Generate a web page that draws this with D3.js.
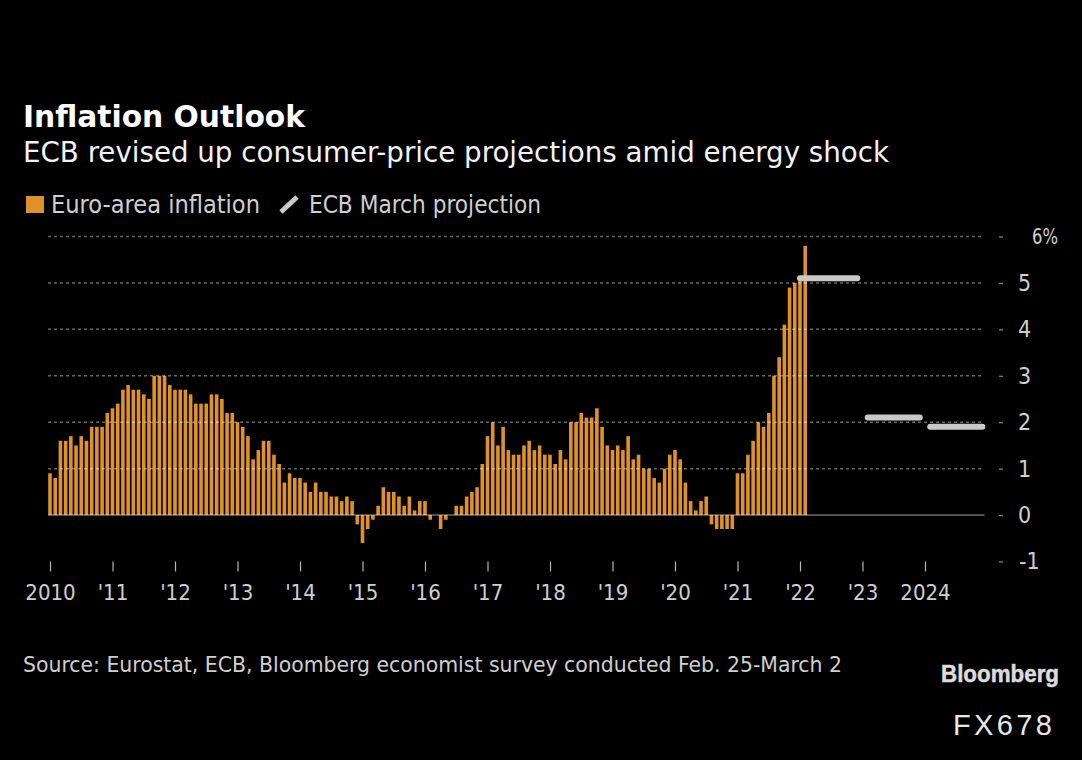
<!DOCTYPE html>
<html>
<head>
<meta charset="utf-8">
<script src="https://cdn.jsdelivr.net/npm/d3@7"></script>
<style>
  html, body { margin: 0; padding: 0; background: #000; }
  svg { display: block; }
  text { font-family: "DejaVu Sans Condensed", "DejaVu Sans", sans-serif; font-stretch: condensed; }
</style>
</head>
<body>
<div id="chart"></div>
<script>
// monthly readings, Jan 2010 to Feb 2022
var inflation2010s = [
    0.9, 0.8, 1.6, 1.6, 1.7, 1.5, 1.7, 1.6, 1.9, 1.9, 1.9, 2.2,
    2.3, 2.4, 2.7, 2.8, 2.7, 2.7, 2.6, 2.5, 3.0, 3.0, 3.0, 2.8,
    2.7, 2.7, 2.7, 2.6, 2.4, 2.4, 2.4, 2.6, 2.6, 2.5, 2.2, 2.2,
    2.0, 1.9, 1.7, 1.2, 1.4, 1.6, 1.6, 1.3, 1.1, 0.7, 0.9, 0.8,
    0.8, 0.7, 0.5, 0.7, 0.5, 0.5, 0.4, 0.4, 0.3, 0.4, 0.3, -0.2,
    -0.6, -0.3, -0.1, 0.2, 0.6, 0.5, 0.5, 0.4, 0.2, 0.4, 0.1, 0.3,
    0.3, -0.1, 0.0, -0.3, -0.1, 0.0, 0.2, 0.2, 0.4, 0.5, 0.6, 1.1,
    1.7, 2.0, 1.5, 1.9, 1.4, 1.3, 1.3, 1.5, 1.6, 1.4, 1.5, 1.3,
    1.3, 1.1, 1.4, 1.2, 2.0, 2.0, 2.2, 2.1, 2.1, 2.3, 1.9, 1.5,
    1.4, 1.5, 1.4, 1.7, 1.2, 1.3, 1.0, 1.0, 0.8, 0.7, 1.0, 1.3
];
var inflation2020s = [
    1.4, 1.2, 0.7, 0.3, 0.1, 0.3, 0.4, -0.2, -0.3, -0.3, -0.3, -0.3,
    0.9, 0.9, 1.3, 1.6, 2.0, 1.9, 2.2, 3.0, 3.4, 4.1, 4.9, 5.0,
    5.1, 5.8
];
var inflation = inflation2010s.concat(inflation2020s);

// projection segments, months counted from Jan 2010
var projectionStart = [144, 157, 169];
var projectionEnd = [155, 167, 179];
var projectionValue = [5.1, 2.1, 1.9];

var yearLabels = ['2010', "'11", "'12", "'13", "'14", "'15", "'16", "'17", "'18", "'19", "'20", "'21", "'22", "'23", '2024'];
var yTicks = [-1, 0, 1, 2, 3, 4, 5, 6];

var width = 1082, height = 760;
var orange = '#de9229', grey = '#c9c9c9', label = '#cfcfcf';

var svg = d3.select('#chart').append('svg')
    .attr('width', width)
    .attr('height', height);

svg.append('rect')
    .attr('width', width)
    .attr('height', height)
    .attr('fill', '#000');

var x = d3.scaleLinear().domain([0, 180]).range([50, 987.5]);
var y = d3.scaleLinear().domain([-1, 6]).range([561.5, 236.5]);
var barWidth = 3.6;

// bars
svg.append('g').selectAll('rect')
    .data(inflation)
    .enter()
    .append('rect')
    .attr('x', function(d, i) { return x(i) - barWidth / 2; })
    .attr('y', function(d) { return y(Math.max(d, 0)); })
    .attr('width', barWidth)
    .attr('height', function(d) { return Math.abs(y(d) - y(0)); })
    .attr('fill', orange);

// dotted grid goes over the bars, it shows through them in the original
svg.append('g').selectAll('line')
    .data(yTicks.filter(function(d) { return d > 0; }))
    .enter()
    .append('line')
    .attr('x1', 48)
    .attr('x2', 982)
    .attr('y1', function(d) { return y(d); })
    .attr('y2', function(d) { return y(d); })
    .attr('stroke', 'rgba(255,255,255,0.4)')
    .attr('stroke-width', 1.5)
    .attr('stroke-dasharray', '3 3');

svg.append('line')
    .attr('x1', 48)
    .attr('x2', 984.5)
    .attr('y1', y(0))
    .attr('y2', y(0))
    .attr('stroke', 'rgba(255,255,255,0.42)')
    .attr('stroke-width', 1.4);

// projections
svg.append('g').selectAll('line')
    .data(projectionValue)
    .enter()
    .append('line')
    .attr('x1', function(d, i) { return x(projectionStart[i]); })
    .attr('x2', function(d, i) { return x(projectionEnd[i]); })
    .attr('y1', function(d) { return y(d); })
    .attr('y2', function(d) { return y(d); })
    .attr('stroke', grey)
    .attr('stroke-width', 6)
    .attr('stroke-linecap', 'round');

// x axis, one tick per January
var xAxis = d3.axisBottom(x)
    .tickValues(yearLabels.map(function(d, i) { return i * 12; }))
    .tickFormat(function(d, i) { return yearLabels[i]; })
    .tickSize(10)
    .tickPadding(13);

var gx = svg.append('g')
    .attr('transform', 'translate(0,' + y(-1) + ')')
    .call(xAxis);
gx.select('.domain').remove();
gx.selectAll('line').attr('stroke', '#b5b5b5').attr('stroke-width', 1.2);
gx.selectAll('text')
    .attr('fill', label)
    .attr('font-size', 22);

// y axis on the right
var yAxis = d3.axisRight(y)
    .tickValues(yTicks)
    .tickFormat(function(d) { return d === 6 ? '6%' : d; })
    .tickSize(4)
    .tickPadding(15);

var gy = svg.append('g')
    .attr('transform', 'translate(999,0)')
    .call(yAxis);
gy.select('.domain').remove();
gy.selectAll('line').attr('stroke', '#8a8a8a').attr('stroke-width', 1.2);
gy.selectAll('text')
    .attr('fill', label)
    .attr('font-size', 23)
    .attr('dx', function(d) { return d === 6 ? 14 : (d === -1 ? 1 : 0); });
gy.selectAll('text')
    .filter(function(d) { return d === 6; })
    .attr('font-size', 22)
    .attr('dy', '0.3em')
    .attr('textLength', 26)
    .attr('lengthAdjust', 'spacingAndGlyphs');

// titles
svg.append('text')
    .attr('x', 23).attr('y', 127)
    .attr('fill', '#fff')
    .attr('font-size', 31)
    .attr('font-weight', 700)
    .attr('textLength', 282)
    .attr('lengthAdjust', 'spacingAndGlyphs')
    .text('Inflation Outlook');

svg.append('text')
    .attr('x', 23).attr('y', 162)
    .attr('fill', '#f2f2f2')
    .attr('font-size', 29)
    .attr('textLength', 866)
    .attr('lengthAdjust', 'spacingAndGlyphs')
    .text('ECB revised up consumer-price projections amid energy shock');

// legend
svg.append('rect')
    .attr('x', 26).attr('y', 196)
    .attr('width', 18).attr('height', 17)
    .attr('fill', orange);

svg.append('text')
    .attr('x', 51).attr('y', 213)
    .attr('fill', label)
    .attr('font-size', 24.5)
    .attr('textLength', 209)
    .attr('lengthAdjust', 'spacingAndGlyphs')
    .text('Euro-area inflation');

svg.append('line')
    .attr('x1', 281).attr('y1', 212)
    .attr('x2', 297).attr('y2', 197)
    .attr('stroke', grey)
    .attr('stroke-width', 5);

svg.append('text')
    .attr('x', 309).attr('y', 213)
    .attr('fill', label)
    .attr('font-size', 24.5)
    .attr('textLength', 232)
    .attr('lengthAdjust', 'spacingAndGlyphs')
    .text('ECB March projection');

// footer
svg.append('text')
    .attr('x', 23).attr('y', 672)
    .attr('fill', label)
    .attr('font-size', 22)
    .attr('textLength', 819)
    .attr('lengthAdjust', 'spacingAndGlyphs')
    .text('Source: Eurostat, ECB, Bloomberg economist survey conducted Feb. 25-March 2');

svg.append('text')
    .attr('x', 941).attr('y', 682)
    .attr('fill', '#dcdcdc')
    .attr('stroke', '#dcdcdc')
    .attr('stroke-width', 0.5)
    .attr('font-size', 23.5)
    .attr('font-weight', 700)
    .attr('textLength', 118)
    .attr('lengthAdjust', 'spacingAndGlyphs')
    .style('font-family', '"Liberation Sans", sans-serif')
    .style('font-stretch', 'normal')
    .text('Bloomberg');

svg.append('text')
    .attr('x', 953).attr('y', 735)
    .attr('fill', '#e8e8e8')
    .attr('font-size', 29)
    .attr('textLength', 99)
    .style('font-family', '"Liberation Sans", sans-serif')
    .style('font-stretch', 'normal')
    .text('FX678');
</script>
</body>
</html>
